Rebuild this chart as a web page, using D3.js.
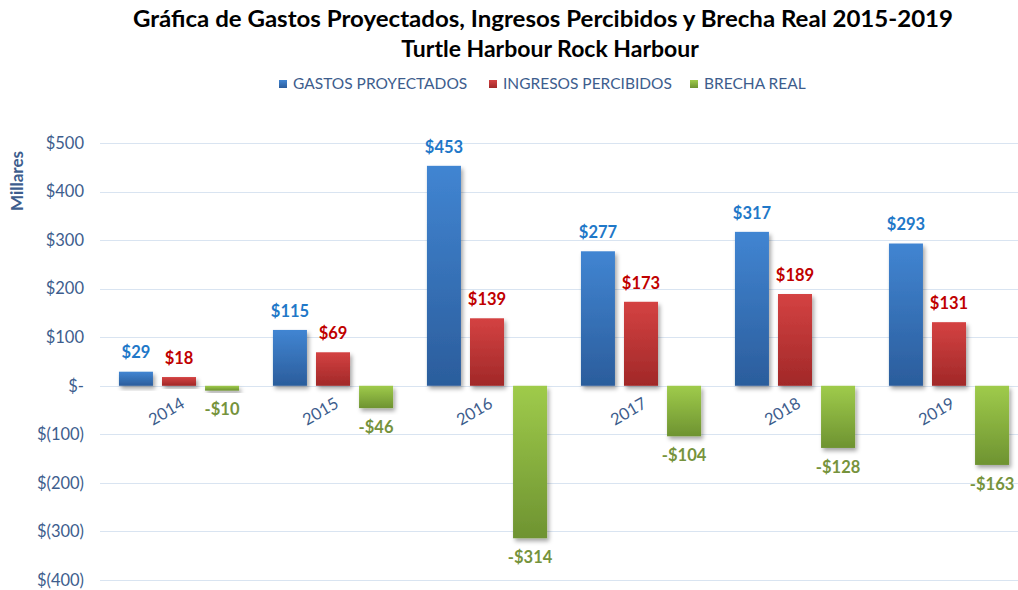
<!DOCTYPE html>
<html>
<head>
<meta charset="utf-8">
<script src="https://cdn.jsdelivr.net/npm/d3@7"></script>
<style>
  html, body { margin: 0; padding: 0; background: #fff; }
  svg { display: block; font-family: Lato, "Open Sans", sans-serif; }
</style>
</head>
<body>
<svg id="chart" width="1018" height="590"></svg>
<script>
// Years and series (values in thousands of dollars)
const years = ["2014", "2015", "2016", "2017", "2018", "2019"];
const gastosProyectados = [29, 115, 453, 277, 317, 293];
const ingresosPercibidos = [18, 69, 139, 173, 189, 131];
const brechaReal = [-10, -46, -314, -104, -128, -163];
const seriesNames = ["GASTOS PROYECTADOS", "INGRESOS PERCIBIDOS", "BRECHA REAL"];
const yTicks = [-400, -300, -200, -100, 0, 100, 200, 300, 400, 500];

const seriesValues = [gastosProyectados, ingresosPercibidos, brechaReal];
const palette = [
  { top: "#4185d2", bottom: "#2b5d9c", label: "#1f78c8" },
  { top: "#d44242", bottom: "#a12828", label: "#c00000" },
  { top: "#9fcb4b", bottom: "#6e9331", label: "#76933c" }
];
const axisColor = "#3d5d8d";

const svg = d3.select("#chart");
const defs = svg.append("defs");

palette.forEach((p, i) => {
  const g = defs.append("linearGradient")
    .attr("id", "grad" + i).attr("x1", 0).attr("y1", 0).attr("x2", 0).attr("y2", 1);
  g.append("stop").attr("offset", "0%").attr("stop-color", p.top);
  g.append("stop").attr("offset", "100%").attr("stop-color", p.bottom);
});
const shadow = defs.append("filter").attr("id", "shadow")
  .attr("x", "-20%").attr("y", "-20%").attr("width", "150%").attr("height", "150%");
shadow.append("feDropShadow").attr("dx", 2).attr("dy", 3).attr("stdDeviation", 2)
  .attr("flood-color", "#000").attr("flood-opacity", 0.35);

// Scales
const y = d3.scaleLinear().domain([-400, 500]).range([580, 143]);
const x0 = d3.scaleBand().domain(years).range([102, 1026]).paddingInner(0.22).paddingOuter(0.11);
const x1 = d3.scaleBand().domain(d3.range(3)).range([0, x0.bandwidth()]).paddingInner(0.21);

// Titles
svg.append("text").attr("x", 543).attr("y", 27).attr("text-anchor", "middle")
  .attr("font-size", 23).attr("font-weight", "bold").attr("fill", "#000")
  .attr("textLength", 820).attr("lengthAdjust", "spacingAndGlyphs")
  .text("Gráfica de Gastos Proyectados, Ingresos Percibidos y Brecha Real 2015-2019");
svg.append("text").attr("x", 550).attr("y", 57).attr("text-anchor", "middle")
  .attr("font-size", 23).attr("font-weight", "bold").attr("fill", "#000")
  .text("Turtle Harbour Rock Harbour");

// Legend
const legendX = [279, 489, 690];
seriesNames.forEach((name, i) => {
  const g = svg.append("g").attr("transform", `translate(${legendX[i]},84)`);
  g.append("rect").attr("x", 0).attr("y", -4).attr("width", 8).attr("height", 8)
    .attr("fill", `url(#grad${i})`);
  g.append("text").attr("x", 14).attr("y", 0).attr("dy", "0.35em")
    .attr("font-size", 15.5).attr("fill", axisColor).text(name);
});

// Gridlines
svg.append("g").selectAll("line").data(yTicks).join("line")
  .attr("x1", 100).attr("x2", 1018)
  .attr("y1", d => Math.round(y(d)) + 0.5).attr("y2", d => Math.round(y(d)) + 0.5)
  .attr("stroke", "#d9e4f1").attr("stroke-width", 1);

// Y axis labels
const fmt = d => d === 0 ? "$-" : d < 0 ? `$(${-d})` : `$${d}`;
const yAxis = d3.axisLeft(y).tickValues(yTicks).tickFormat(fmt).tickSize(0).tickPadding(0);
const yg = svg.append("g").attr("transform", "translate(84,0)").call(yAxis);
yg.select(".domain").remove();
yg.selectAll("text").attr("font-size", 16.5).attr("fill", axisColor)
  .attr("font-family", "Lato, 'Open Sans', sans-serif");

svg.append("text").attr("transform", "translate(23,181) rotate(-90)")
  .attr("text-anchor", "middle").attr("font-size", 17).attr("font-weight", "bold")
  .attr("fill", axisColor).text("Millares");

// Bars
const groups = svg.append("g").selectAll("g").data(years).join("g")
  .attr("transform", d => `translate(${x0(d)},0)`);

groups.each(function (year, yi) {
  const g = d3.select(this);
  seriesValues.forEach((vals, si) => {
    const v = vals[yi];
    g.append("rect")
      .attr("x", x1(si)).attr("width", x1.bandwidth())
      .attr("y", Math.min(y(v), y(0)))
      .attr("height", Math.abs(y(v) - y(0)))
      .attr("fill", `url(#grad${si})`)
      .attr("filter", "url(#shadow)");
    const label = v < 0 ? `-$${-v}` : `$${v}`;
    g.append("text")
      .attr("x", x1(si) + x1.bandwidth() / 2)
      .attr("y", v < 0 ? y(v) + 19 : y(v) - 19)
      .attr("dy", "0.35em")
      .attr("text-anchor", "middle")
      .attr("font-size", 16.5).attr("font-weight", "bold")
      .attr("fill", palette[si].label)
      .text(label);
  });
});

// Category labels (rotated)
svg.append("g").selectAll("text").data(years).join("text")
  .attr("transform", d => `translate(${x0(d) + x0.bandwidth() / 2 + 4},${y(0) + 16}) rotate(-30)`)
  .attr("text-anchor", "end").attr("dy", "0.35em")
  .attr("font-size", 16.5).attr("fill", axisColor)
  .text(d => d);
</script>
</body>
</html>
